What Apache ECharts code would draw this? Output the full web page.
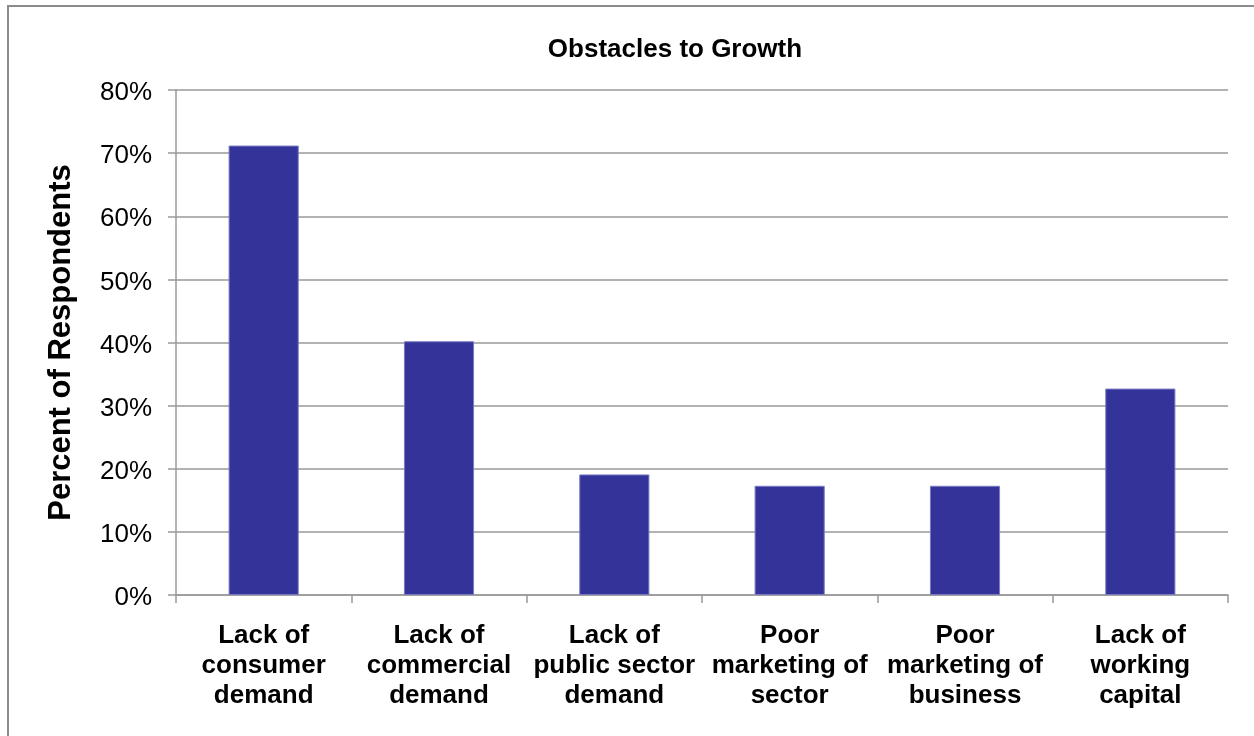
<!DOCTYPE html>
<html>
<head>
<meta charset="utf-8">
<style>
  html, body { margin: 0; padding: 0; background: #ffffff; }
  #chart { width: 1254px; height: 736px; }
</style>
<script src="https://cdn.jsdelivr.net/npm/echarts@6/dist/echarts.min.js"></script>
</head>
<body>
<div id="chart"></div>
<script>
// Survey: obstacles to growth, share of respondents (%)
const categories = [
  'Lack of\nconsumer\ndemand',
  'Lack of\ncommercial\ndemand',
  'Lack of\npublic sector\ndemand',
  'Poor\nmarketing of\nsector',
  'Poor\nmarketing of\nbusiness',
  'Lack of\nworking\ncapital'
];
const respondents = [71.2, 40.2, 19.1, 17.3, 17.3, 32.7];
const yTicks = { min: 0, max: 80, interval: 10 };

const chart = echarts.init(document.getElementById('chart'), null, { renderer: 'canvas' });
const FONT = '"Liberation Sans", Arial, sans-serif';

chart.setOption({
  backgroundColor: '#ffffff',
  animation: false,
  title: {
    text: 'Obstacles to Growth',
    left: 670, top: 32, textAlign: 'center',
    textStyle: { fontFamily: FONT, fontSize: 26, fontWeight: 'bold', color: '#000' }
  },
  graphic: [{
    type: 'rect',
    shape: { x: 8, y: 6, width: 1400, height: 900 },
    style: { fill: 'none', stroke: '#8c8c8c', lineWidth: 2 },
    silent: true
  }],
  grid: { left: 176, right: 26, top: 90, bottom: 141 },
  xAxis: {
    type: 'category',
    data: categories,
    axisLine: { lineStyle: { color: '#999', width: 1.5 } },
    axisTick: { show: true, length: 8, alignWithLabel: false, lineStyle: { color: '#999', width: 1.5 } },
    axisLabel: {
      interval: 0, margin: 26,
      fontFamily: FONT, fontSize: 26, fontWeight: 'bold', color: '#000', lineHeight: 30
    }
  },
  yAxis: {
    type: 'value',
    min: yTicks.min, max: yTicks.max, interval: yTicks.interval,
    name: 'Percent of Respondents',
    nameLocation: 'middle', nameGap: 99, nameRotate: 90,
    nameTextStyle: { fontFamily: FONT, fontSize: 31, fontWeight: 'bold', color: '#000' },
    axisLine: { show: true, lineStyle: { color: '#999', width: 1.5 } },
    axisTick: { show: true, length: 8, lineStyle: { color: '#999', width: 1.5 } },
    axisLabel: {
      margin: 24,
      formatter: v => '{t|' + v + '%}',
      rich: { t: { fontFamily: FONT, fontSize: 26, color: '#000', padding: [6, 0, 0, 0] } }
    },
    splitLine: { lineStyle: { color: '#999', width: 1.5 } }
  },
  series: [{
    type: 'bar',
    data: respondents,
    barWidth: '40%',
    itemStyle: { color: '#333399', borderColor: '#7b7bc4', borderWidth: 1 }
  }]
});
</script>
</body>
</html>
